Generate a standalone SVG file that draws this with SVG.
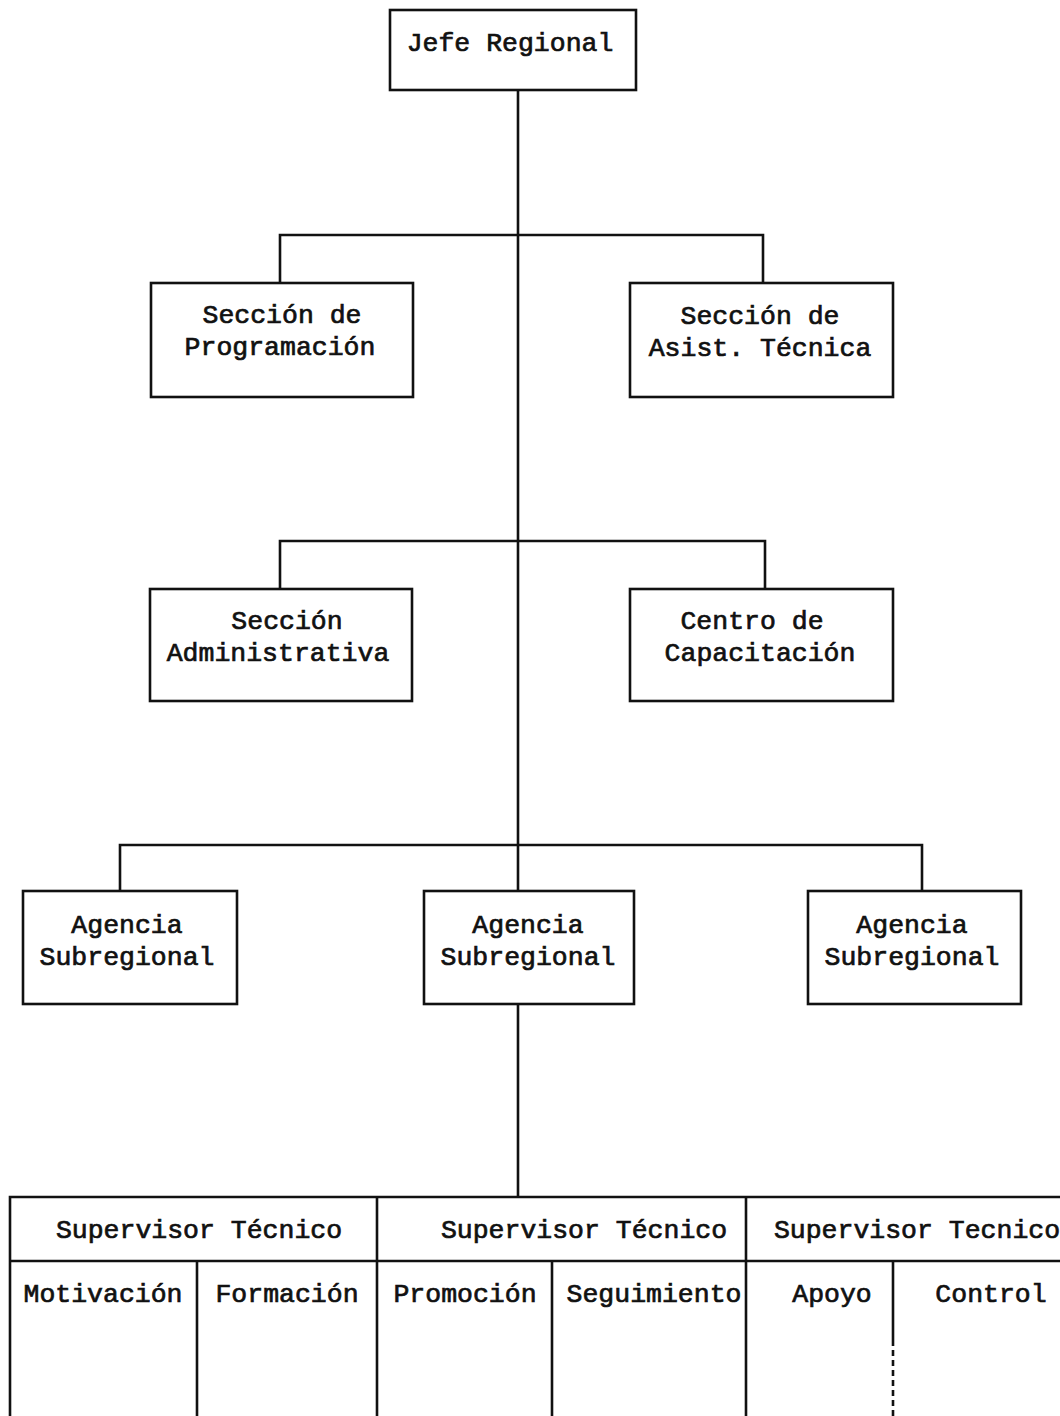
<svg xmlns="http://www.w3.org/2000/svg" width="1060" height="1416" viewBox="0 0 1060 1416">
<style>
.box{fill:none;stroke:#111;stroke-width:2.6}
.ln{fill:none;stroke:#111;stroke-width:2.6}
text{font-family:"Liberation Mono","Courier New",monospace;font-size:26.5px;fill:#111;stroke:#111;stroke-width:0.7;text-anchor:middle}
</style>
<rect width="1060" height="1416" fill="#fff"/>
<g id="connectors">
<path class="ln" d="M518 90V891M518 1004V1197"/>
<path class="ln" d="M280 283V235H763V283"/>
<path class="ln" d="M280 589V541H765V589"/>
<path class="ln" d="M120 891V845H922V891"/>
</g>
<g id="jefe"><rect class="box" x="390" y="10" width="246" height="80"/><text x="510" y="51">Jefe Regional</text></g>
<g id="programacion"><rect class="box" x="151" y="283" width="262" height="114"/><text x="282" y="323">Sección de</text><text x="280" y="355">Programación</text></g>
<g id="asistencia"><rect class="box" x="630" y="283" width="263" height="114"/><text x="760" y="324">Sección de</text><text x="760" y="356">Asist. Técnica</text></g>
<g id="administrativa"><rect class="box" x="150" y="589" width="262" height="112"/><text x="287" y="629">Sección</text><text x="278" y="661">Administrativa</text></g>
<g id="capacitacion"><rect class="box" x="630" y="589" width="263" height="112"/><text x="752" y="629">Centro de</text><text x="760" y="661">Capacitación</text></g>
<g id="agencia1"><rect class="box" x="23" y="891" width="214" height="113"/><text x="127" y="933">Agencia</text><text x="127" y="965">Subregional</text></g>
<g id="agencia2"><rect class="box" x="424" y="891" width="210" height="113"/><text x="528" y="933">Agencia</text><text x="528" y="965">Subregional</text></g>
<g id="agencia3"><rect class="box" x="808" y="891" width="213" height="113"/><text x="912" y="933">Agencia</text><text x="912" y="965">Subregional</text></g>
<g id="supervisores">
<path class="ln" d="M10 1416V1197H1060M10 1261H1060M377 1197V1416M746 1197V1416M197 1261V1416M552 1261V1416M893 1261V1340"/>
<path class="ln" d="M893 1340V1416" stroke-dasharray="6 4"/>
<text x="199" y="1238">Supervisor Técnico</text>
<text x="584" y="1238">Supervisor Técnico</text>
<text x="917" y="1238">Supervisor Tecnico</text>
<text x="103" y="1302">Motivación</text>
<text x="287" y="1302">Formación</text>
<text x="465" y="1302">Promoción</text>
<text x="654" y="1302">Seguimiento</text>
<text x="832" y="1302">Apoyo</text>
<text x="991" y="1302">Control</text>
</g>
</svg>
